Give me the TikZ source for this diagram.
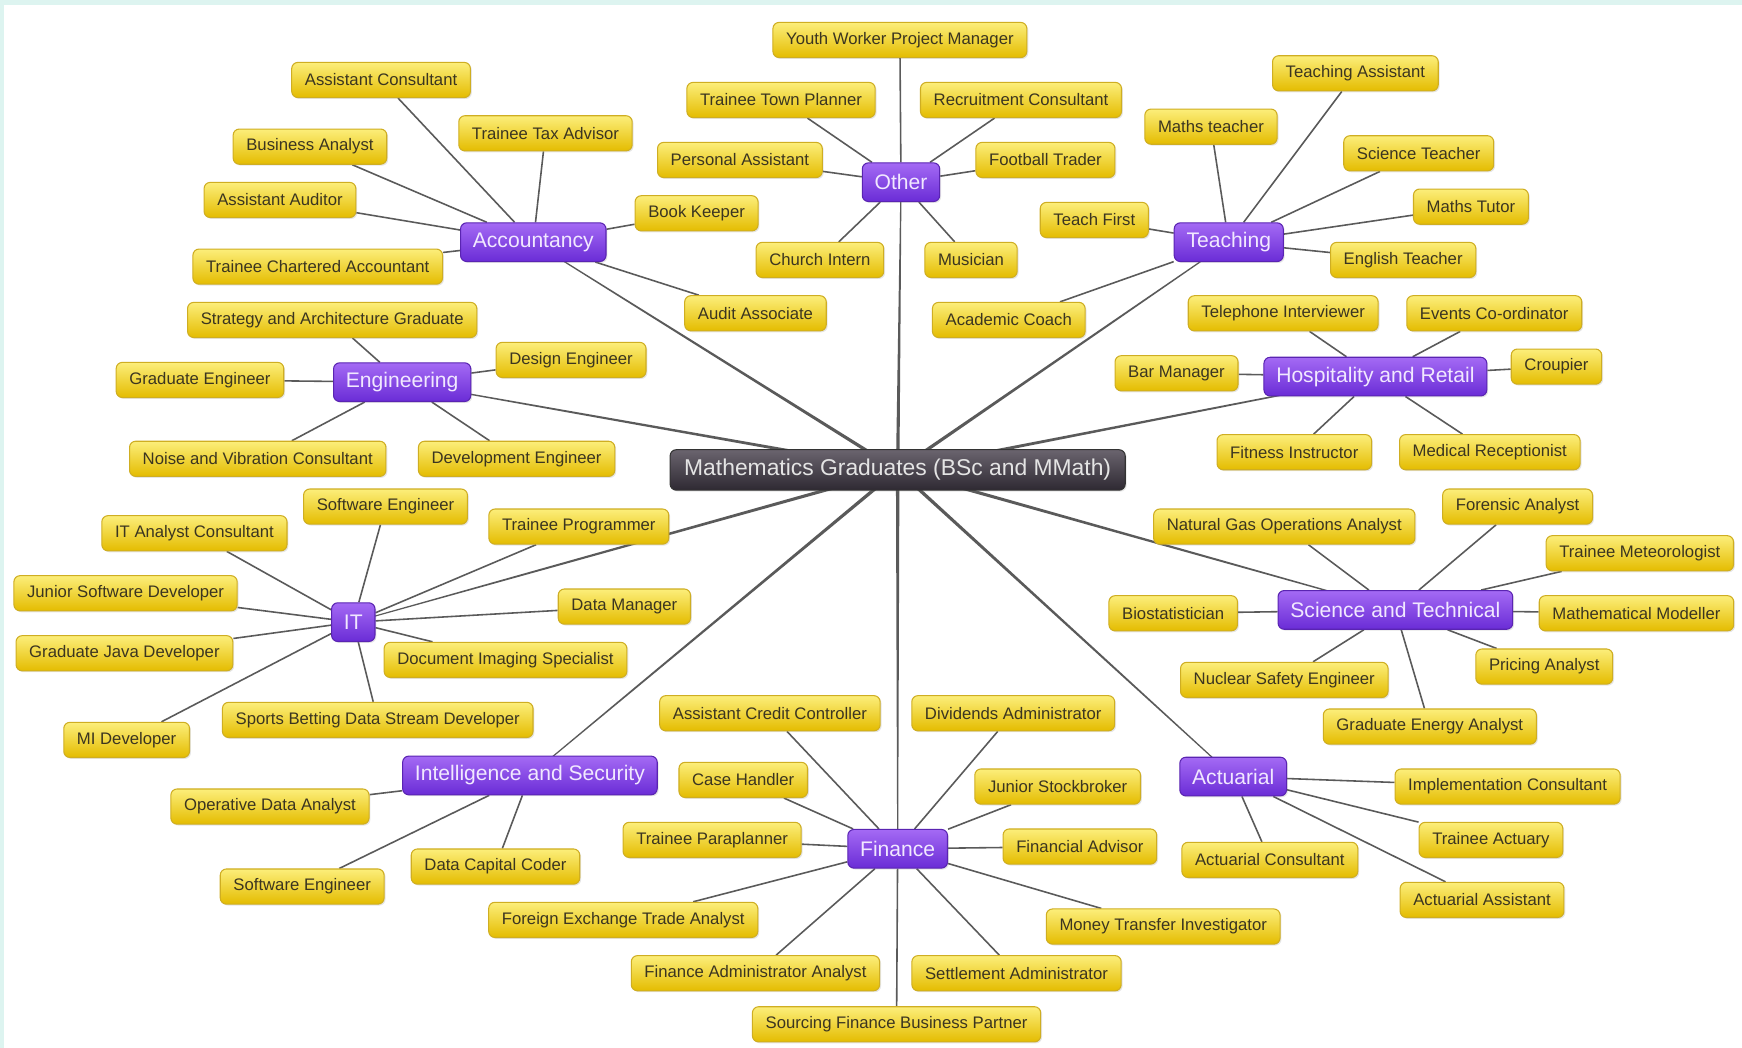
\documentclass[tikz,border=0pt]{standalone}
\usepackage{fontspec}
\setmainfont{Liberation Sans}
\usetikzlibrary{shadows,backgrounds,calc}

\definecolor{leaftop}{HTML}{FCEE7A}
\definecolor{leafbot}{HTML}{E4BC00}
\definecolor{leafedge}{HTML}{CFAE22}
\definecolor{leaftext}{HTML}{3B3520}
\definecolor{cattop}{HTML}{A46AF4}
\definecolor{catbot}{HTML}{6A2CD6}
\definecolor{catedge}{HTML}{5A24B2}
\definecolor{cattext}{HTML}{F1E8FF}
\definecolor{hubtop}{HTML}{6A646E}
\definecolor{hubbot}{HTML}{2E2932}
\definecolor{hubtext}{HTML}{E4E4E4}
\definecolor{linkgray}{HTML}{5A5A5A}
\definecolor{framecyan}{HTML}{DDF4F0}

\tikzset{
  box/.style={rounded corners=3.5pt, line width=0.6pt, inner ysep=2pt,
    drop shadow={opacity=0.2, shadow xshift=0.8pt, shadow yshift=-0.8pt}},
  leaf/.style={box, draw=leafedge, top color=leaftop, bottom color=leafbot,
    text=leaftext, font=\fontsize{9.5}{11}\selectfont,
    minimum height=20pt, inner xsep=7.5pt},
  cat/.style={box, draw=catedge, top color=cattop, bottom color=catbot,
    text=cattext, font=\fontsize{12}{14}\selectfont,
    minimum height=22pt, inner xsep=7pt},
  hub/.style={box, draw=black!80, top color=hubtop, bottom color=hubbot,
    text=hubtext, font=\fontsize{13}{15}\selectfont,
    minimum height=23pt, inner xsep=8pt},
  link/.style={draw=linkgray, line width=0.9pt},
  trunk/.style={fill=linkgray},
}

\begin{document}
\begin{tikzpicture}[x=0.0222cm, y=-0.0222cm]
\useasboundingbox (0,0) rectangle (1568,943);
% page
\begin{scope}[on background layer]
\fill[white] (0,0) rectangle (1568,943);
\fill[framecyan] (0,0) rectangle (1568,4.5);
\fill[framecyan] (0,0) rectangle (3.5,943);
\end{scope}

% centre
\node[hub] (maths) at (808,423) {Mathematics Graduates (BSc and MMath)};

% subjects
\node[cat] (acc) at (480,218) {Accountancy};
\node[cat] (oth) at (811,164) {Other};
\node[cat] (tea) at (1106,218) {Teaching};
\node[cat] (eng) at (362,344) {Engineering};
\node[cat] (hos) at (1238,339) {Hospitality and Retail};
\node[cat] (it) at (318,560) {IT};
\node[cat] (sci) at (1256,549) {Science and Technical};
\node[cat] (int) at (477,698) {Intelligence and Security};
\node[cat] (fin) at (808,764) {Finance};
\node[cat] (act) at (1110,699) {Actuarial};

% accountancy
\node[leaf] (asscons) at (343,72) {Assistant Consultant};
\node[leaf] (taxadv) at (491,120) {Trainee Tax Advisor};
\node[leaf] (busan) at (279,132) {Business Analyst};
\node[leaf] (assaud) at (252,180) {Assistant Auditor};
\node[leaf] (charter) at (286,240) {Trainee Chartered Accountant};
\node[leaf] (bookk) at (627,192) {Book Keeper};
\node[leaf] (auditass) at (680,282) {Audit Associate};

% other
\node[leaf] (youth) at (810,36) {Youth Worker Project Manager};
\node[leaf] (town) at (703,90) {Trainee Town Planner};
\node[leaf] (recruit) at (919,90) {Recruitment Consultant};
\node[leaf] (persass) at (666,144) {Personal Assistant};
\node[leaf] (football) at (941,144) {Football Trader};
\node[leaf] (church) at (738,234) {Church Intern};
\node[leaf] (musician) at (874,234) {Musician};

% teaching
\node[leaf] (teachass) at (1220,66) {Teaching Assistant};
\node[leaf] (mathsteach) at (1090,114) {Maths teacher};
\node[leaf] (science) at (1277,138) {Science Teacher};
\node[leaf] (tutor) at (1324,186) {Maths Tutor};
\node[leaf] (teachfirst) at (985,198) {Teach First};
\node[leaf] (english) at (1263,234) {English Teacher};
\node[leaf] (coach) at (908,288) {Academic Coach};

% engineering
\node[leaf] (strategy) at (299,288) {Strategy and Architecture Graduate};
\node[leaf] (design) at (514,324) {Design Engineer};
\node[leaf] (gradeng) at (180,342) {Graduate Engineer};
\node[leaf] (noise) at (232,413) {Noise and Vibration Consultant};
\node[leaf] (develop) at (465,413) {Development Engineer};

% hospitality and retail
\node[leaf] (phone) at (1155,282) {Telephone Interviewer};
\node[leaf] (events) at (1345,282) {Events Co-ordinator};
\node[leaf] (bar) at (1059,336) {Bar Manager};
\node[leaf] (croupier) at (1401,330) {Croupier};
\node[leaf] (fitness) at (1165,407) {Fitness Instructor};
\node[leaf] (medical) at (1341,407) {Medical Receptionist};

% it
\node[leaf] (softeng) at (347,456) {Software Engineer};
\node[leaf] (itanalyst) at (175,480) {IT Analyst Consultant};
\node[leaf] (programmer) at (521,474) {Trainee Programmer};
\node[leaf] (juniordev) at (113,534) {Junior Software Developer};
\node[leaf] (datamgr) at (562,546) {Data Manager};
\node[leaf] (javadev) at (112,588) {Graduate Java Developer};
\node[leaf] (imaging) at (455,594) {Document Imaging Specialist};
\node[leaf] (betting) at (340,648) {Sports Betting Data Stream Developer};
\node[leaf] (midev) at (114,666) {MI Developer};

% science and technical
\node[leaf] (forensic) at (1366,456) {Forensic Analyst};
\node[leaf] (gas) at (1156,474) {Natural Gas Operations Analyst};
\node[leaf] (meteo) at (1476,498) {Trainee Meteorologist};
\node[leaf] (biostat) at (1056,552) {Biostatistician};
\node[leaf] (modeller) at (1473,552) {Mathematical Modeller};
\node[leaf] (pricing) at (1390,600) {Pricing Analyst};
\node[leaf] (nuclear) at (1156,612) {Nuclear Safety Engineer};
\node[leaf] (energy) at (1287,654) {Graduate Energy Analyst};

% intelligence and security
\node[leaf] (operative) at (243,726) {Operative Data Analyst};
\node[leaf] (coder) at (446,780) {Data Capital Coder};
\node[leaf] (softeng2) at (272,798) {Software Engineer};

% finance
\node[leaf] (credit) at (693,642) {Assistant Credit Controller};
\node[leaf] (dividends) at (912,642) {Dividends Administrator};
\node[leaf] (casehand) at (669,702) {Case Handler};
\node[leaf] (stockbroker) at (952,708) {Junior Stockbroker};
\node[leaf] (paraplanner) at (641,756) {Trainee Paraplanner};
\node[leaf] (advisor) at (972,762) {Financial Advisor};
\node[leaf] (forex) at (561,828) {Foreign Exchange Trade Analyst};
\node[leaf] (transfer) at (1047,834) {Money Transfer Investigator};
\node[leaf] (finadmin) at (680,876) {Finance Administrator Analyst};
\node[leaf] (settle) at (915,876) {Settlement Administrator};
\node[leaf] (sourcing) at (807,922) {Sourcing Finance Business Partner};

% actuarial
\node[leaf] (implement) at (1357,708) {Implementation Consultant};
\node[leaf] (actuary) at (1342,756) {Trainee Actuary};
\node[leaf] (actcons) at (1143,774) {Actuarial Consultant};
\node[leaf] (actass) at (1334,810) {Actuarial Assistant};

% connectors (trunks taper from the centre)
\begin{scope}[on background layer]
\foreach \c in {acc,oth,tea,eng,hos,it,sci,int,fin,act}
  \fill[trunk] ($(maths.center)!1pt!90:(\c.center)$) -- ($(\c.center)!0.3pt!-90:(maths.center)$)
    -- ($(\c.center)!0.3pt!90:(maths.center)$) -- ($(maths.center)!1pt!-90:(\c.center)$) -- cycle;
\foreach \n in {asscons,taxadv,busan,assaud,charter,bookk,auditass}
  \draw[link] (acc) -- (\n);
\foreach \n in {youth,town,recruit,persass,football,church,musician}
  \draw[link] (oth) -- (\n);
\foreach \n in {teachass,mathsteach,science,tutor,teachfirst,english,coach}
  \draw[link] (tea) -- (\n);
\foreach \n in {strategy,design,gradeng,noise,develop}
  \draw[link] (eng) -- (\n);
\foreach \n in {phone,events,bar,croupier,fitness,medical}
  \draw[link] (hos) -- (\n);
\foreach \n in {softeng,itanalyst,programmer,juniordev,datamgr,javadev,imaging,betting,midev}
  \draw[link] (it) -- (\n);
\foreach \n in {forensic,gas,meteo,biostat,modeller,pricing,nuclear,energy}
  \draw[link] (sci) -- (\n);
\foreach \n in {operative,coder,softeng2}
  \draw[link] (int) -- (\n);
\foreach \n in {credit,dividends,casehand,stockbroker,paraplanner,advisor,forex,transfer,finadmin,settle,sourcing}
  \draw[link] (fin) -- (\n);
\foreach \n in {implement,actuary,actcons,actass}
  \draw[link] (act) -- (\n);
\end{scope}
\end{tikzpicture}
\end{document}
